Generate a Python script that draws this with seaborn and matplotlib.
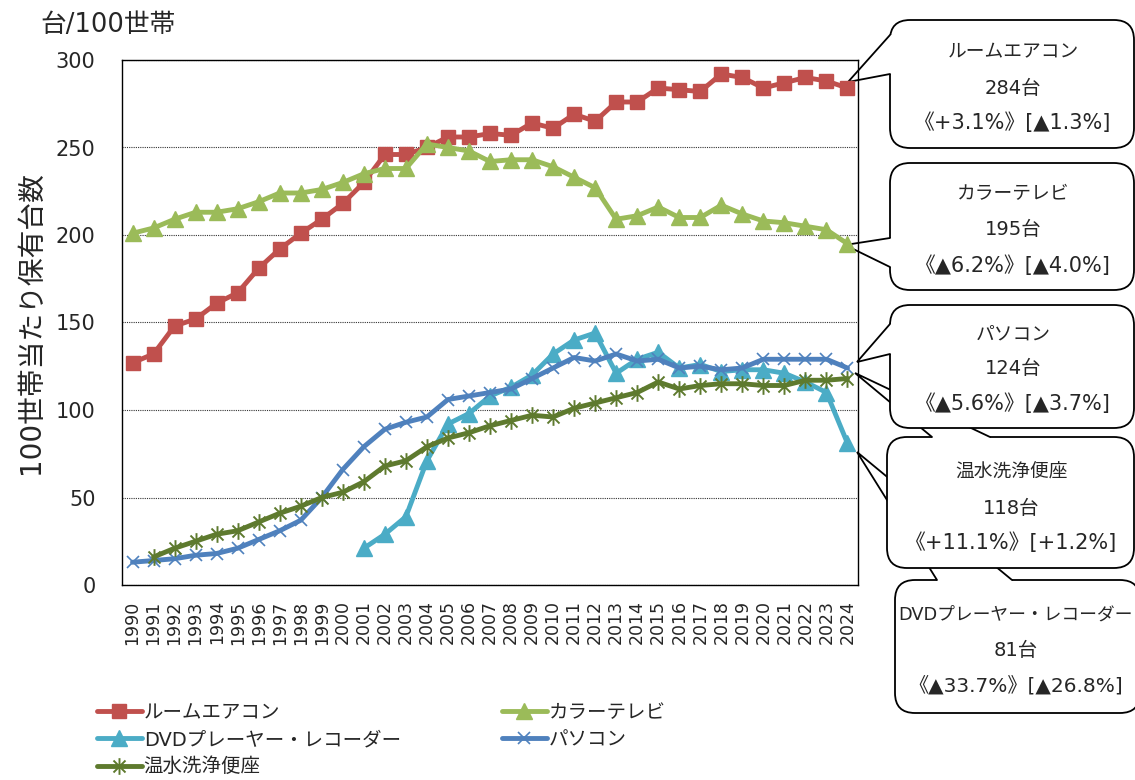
import numpy as np
import pandas as pd
import matplotlib
matplotlib.use("Agg")
import matplotlib.pyplot as plt
import seaborn as sns
from matplotlib.path import Path
from matplotlib.patches import FancyBboxPatch, Polygon
from matplotlib.lines import Line2D

nan = np.nan
years = list(range(1990, 2025))
aircon = [127, 132, 148, 152, 161, 167, 181, 192, 201, 209, 218, 230, 246, 246, 250,
          256, 256, 258, 257, 264, 261, 269, 265, 276, 276, 284, 283, 282, 292, 290,
          284, 287, 290, 288, 284]
tv = [201, 204, 209, 213, 213, 215, 219, 224, 224, 226, 230, 235, 238, 238, 252,
      250, 248, 242, 243, 243, 239, 233, 227, 209, 211, 216, 210, 210, 217, 212,
      208, 207, 205, 203, 195]
dvd = [nan] * 11 + [21, 29, 39, 71, 92, 98, 108, 113, 120, 132, 140, 144, 121, 129,
                    133, 124, 126, 122, 123, 123, 121, 116, 110, 81]
pc = [13, 14, 15, 17, 18, 21, 26, 31, 37, 50, 66, 79, 89, 93, 96, 106, 108, 110,
      112, 118, 124, 130, 128, 132, 128, 129, 124, 125, 123, 124, 129, 129, 129, 129, 124]
toilet = [nan, 16, 21, 25, 29, 31, 36, 41, 45, 50, 53, 59, 68, 71, 79, 84, 87, 91,
          94, 97, 96, 101, 104, 107, 110, 116, 112, 114, 115, 115, 114, 114, 117, 117, 118]

series_names = ["ルームエアコン", "カラーテレビ", "DVDプレーヤー・レコーダー", "パソコン", "温水洗浄便座"]
series_values = [aircon, tv, dvd, pc, toilet]

callout_names = ["ルームエアコン", "カラーテレビ", "パソコン", "温水洗浄便座", "DVDプレーヤー・レコーダー"]
callout_values = ["284台", "195台", "124台", "118台", "81台"]
callout_changes = ["《+3.1%》[▲1.3%]", "《▲6.2%》[▲4.0%]", "《▲5.6%》[▲3.7%]",
                   "《+11.1%》[+1.2%]", "《▲33.7%》[▲26.8%]"]

y_ticks = [0, 50, 100, 150, 200, 250, 300]
y_label = "100世帯当たり保有台数"
unit_label = "台/100世帯"

sns.set_style("white")
plt.rcParams["font.family"] = ["DejaVu Sans", "Noto Sans CJK JP"]

W, H = 1135, 780
fig = plt.figure(figsize=(W / 100, H / 100), dpi=100)
ax = fig.add_axes([122 / W, 1 - 585 / H, 736 / W, 525 / H])
ax.set_zorder(20)
ax.patch.set_facecolor("none")

star = Path([(0, -1), (0, 1), (-0.72, -0.72), (0.72, 0.72), (-0.72, 0.72), (0.72, -0.72)],
            [Path.MOVETO, Path.LINETO] * 3)

styles = [
    dict(color="#C0504D", marker="s", markersize=10, mec="#C0504D", mew=1),
    dict(color="#9BBB59", marker="^", markersize=11, mec="#9BBB59", mew=1),
    dict(color="#4BACC6", marker="^", markersize=11, mec="#4BACC6", mew=1),
    dict(color="#4F81BD", marker="x", markersize=8, mec="#4F81BD", mew=1.2),
    dict(color="#5E7A2E", marker=star, markersize=12, mec="#5E7A2E", mew=1.4),
]

for name, vals, st in zip(series_names, series_values, styles):
    df = pd.DataFrame({"year": years, "value": vals}).dropna()
    sns.lineplot(data=df, x="year", y="value", ax=ax, linewidth=3.5, label=name,
                 legend=False, **st)

ax.set_xlim(1989.5, 2024.5)
ax.set_ylim(0, 300)
ax.set_yticks(y_ticks)
ax.set_yticklabels([str(v) for v in y_ticks], fontsize=15)
ax.set_xticks(years)
ax.set_xticklabels([str(y) for y in years], rotation=90, fontsize=12.5)
ax.set_xticks([y + 0.5 for y in range(1989, 2025)], minor=True)
ax.tick_params(axis="x", which="major", length=0, pad=11)
ax.tick_params(axis="x", which="minor", direction="in", length=6, width=0.8, color="#555555")
ax.tick_params(axis="y", length=0, pad=19)
ax.set_xlabel("")
ax.set_ylabel(y_label, fontsize=20)
ax.yaxis.set_label_coords(-0.105, 0.5)
ax.grid(axis="y", linestyle=(0, (1, 1)), color="#333333", linewidth=0.8)
ax.grid(axis="x", visible=False)
for s in ax.spines.values():
    s.set_color("black")
    s.set_linewidth(1.0)
    s.set_visible(True)

fig.text(40 / W, 1 - 25 / H, unit_label, fontsize=18.5, ha="left", va="center")

# legend (row-major ordering for two columns)
lines = ax.get_lines()
order = [0, 2, 4, 1, 3]
leg = fig.legend([lines[i] for i in order], [series_names[i] for i in order],
                 loc="upper left", bbox_to_anchor=(97 / W, 1 - 703 / H), ncol=2,
                 frameon=False, fontsize=14, handlelength=2.3, handletextpad=0.1,
                 columnspacing=5.2, labelspacing=0.42, borderpad=0, borderaxespad=0)

# callouts (pixel layout -> inches)
def P(x, y):
    return (x / 100, (H - y) / 100)

tr = fig.dpi_scale_trans
boxes = [(890, 20, 1134, 148), (890, 163, 1134, 290), (890, 305, 1134, 428),
         (887, 437, 1134, 568), (895, 580, 1140, 713)]
tips = [(848, 82), (845, 245), (857, 362), (855, 373), (857, 452)]
bases = [((890, 35), (890, 74), (6, 0)), ((890, 238), (890, 267), (6, 0)),
         ((890, 324), (890, 354), (6, 0)), ((932, 437), (990, 437), (0, 6)),
         ((937, 580), (1012, 580), (0, 6))]
text_dy = [(-32, 5, 39), (-33, 3, 39), (-33, 2, 37), (-30, 6, 40), (-32, 4, 39)]
name_sizes = [13.5, 13.5, 13.5, 13.5, 12.8]
change_sizes = [15, 15, 15, 15, 14.5]
zs = [14, 13, 12, 11, 10]

for i in range(5):
    x0, y0, x1, y1 = boxes[i]
    z = zs[i]
    box = FancyBboxPatch(P(x0, y1), (x1 - x0) / 100, (y1 - y0) / 100,
                         boxstyle="round,pad=0,rounding_size=0.2", transform=tr,
                         facecolor="white", edgecolor="black", linewidth=1.3, zorder=z)
    fig.add_artist(box)
    (b1, b2, d) = bases[i]
    tip = tips[i]
    b1i = (b1[0] + d[0], b1[1] + d[1])
    b2i = (b2[0] + d[0], b2[1] + d[1])
    poly = Polygon([P(*tip), P(*b1), P(*b1i), P(*b2i), P(*b2)], closed=True,
                   transform=tr, facecolor="white", edgecolor="none", zorder=z + 0.1)
    fig.add_artist(poly)
    xs = [P(*b1)[0], P(*tip)[0], P(*b2)[0]]
    ys = [P(*b1)[1], P(*tip)[1], P(*b2)[1]]
    fig.add_artist(Line2D(xs, ys, transform=tr, color="black", linewidth=1.3,
                          zorder=z + 0.2, solid_joinstyle="miter"))
    cx = (x0 + min(x1, 1134)) / 2 + 1
    cy = (y0 + y1) / 2
    texts = [callout_names[i], callout_values[i], callout_changes[i]]
    sizes = [name_sizes[i], 14, change_sizes[i]]
    for txt, dy, fs in zip(texts, text_dy[i], sizes):
        fig.text(*P(cx, cy + dy), txt, transform=tr, fontsize=fs, ha="center",
                 va="center", zorder=z + 0.3)

fig.savefig("out.png", dpi=100)
